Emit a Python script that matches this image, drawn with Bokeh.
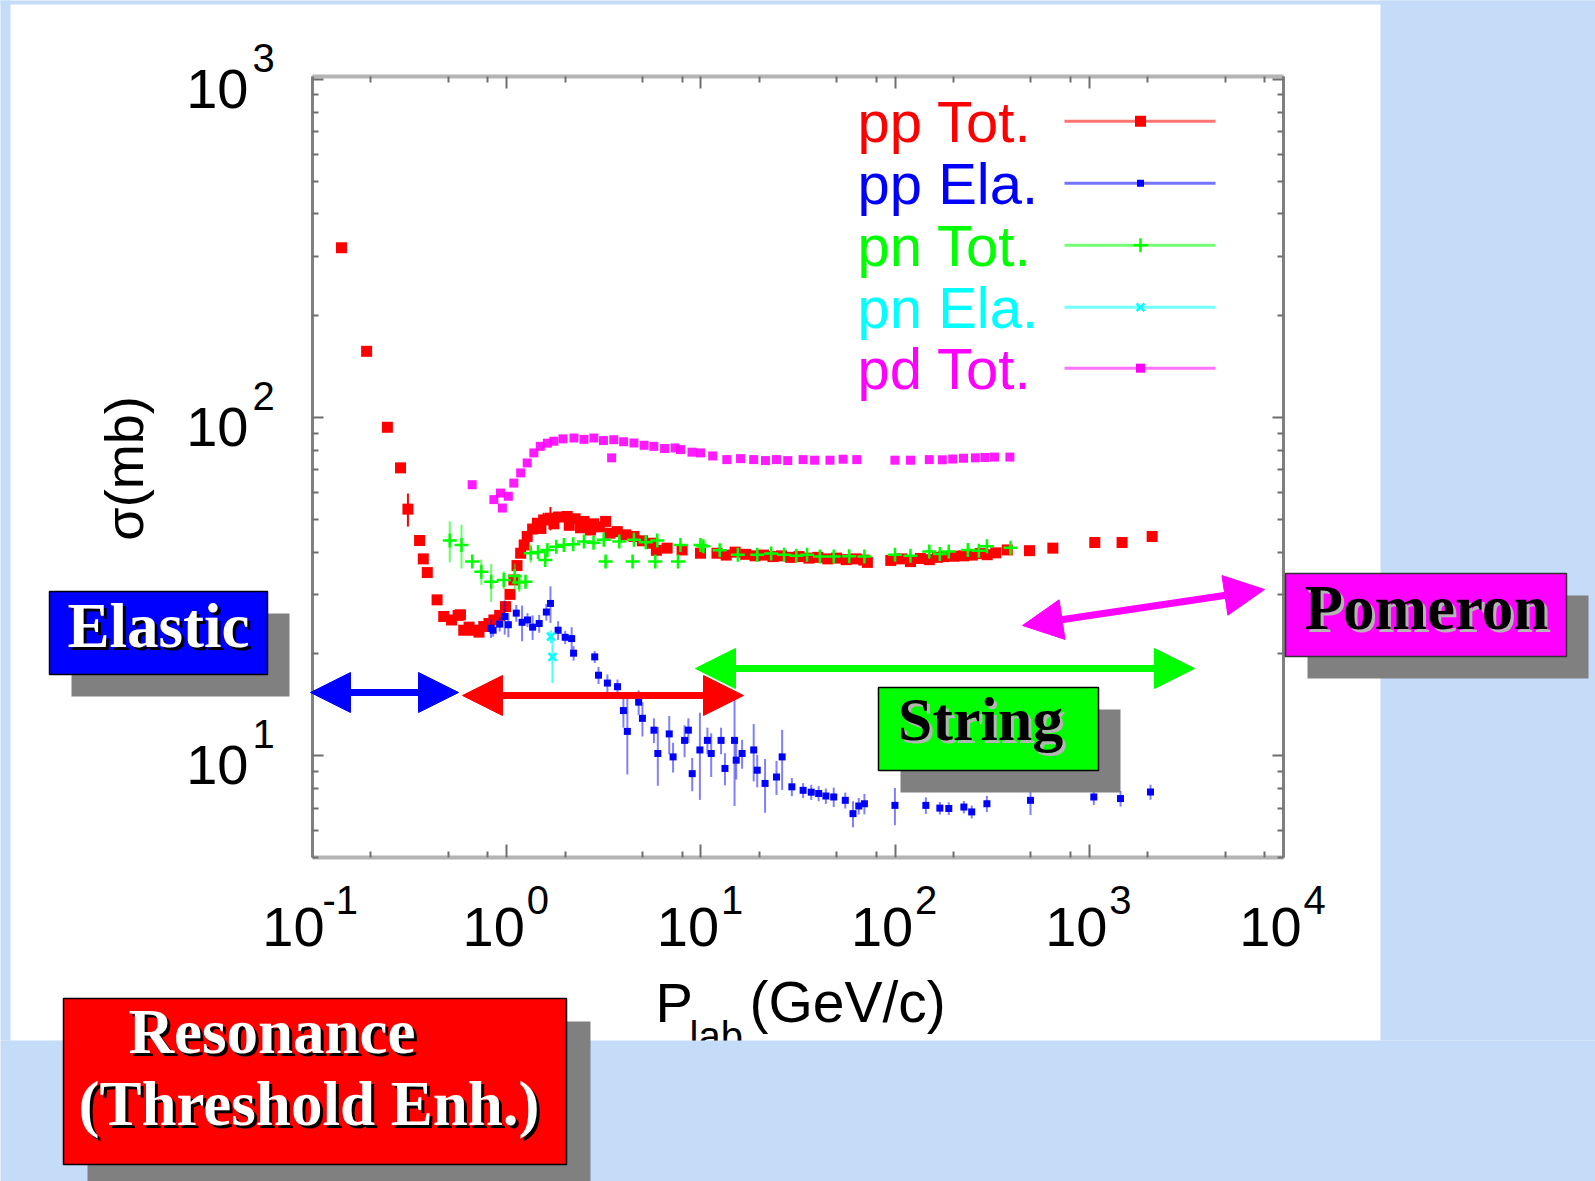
import math
import pandas as pd
from bokeh.plotting import figure
from bokeh.models import (Range1d, LogAxis, FixedTicker, Label, BoxAnnotation,
                          Arrow, NormalHead, ColumnDataSource)
from bokeh.embed import file_html
from bokeh.resources import INLINE

# ------------------------------------------------------------------ data
x_tick_values = [0.1, 1, 10, 100, 1000, 10000]
x_tick_exponents = ["-1", "0", "1", "2", "3", "4"]
y_tick_values = [10, 100, 1000]
y_tick_exponents = ["1", "2", "3"]
x_minor_mult = [2, 5, 8]
y_minor_mult = [2, 3, 4, 5, 6, 7, 8, 9]

x_title_main = "P"
x_title_sub = "lab"
x_title_unit = "(GeV/c)"
y_title = "σ(mb)"

legend_labels = ["pp Tot.", "pp Ela.", "pn Tot.", "pn Ela.", "pd Tot."]

pp_tot_p = [0.141, 0.190, 0.243, 0.284, 0.310, 0.356, 0.372, 0.390, 0.438, 0.474,
            0.520, 0.562, 0.578, 0.601, 0.640, 0.678, 0.720, 0.762, 0.810, 0.859,
            0.920, 0.986, 1.04, 1.088, 1.13, 1.18, 1.23, 1.275, 1.36, 1.44,
            1.50, 1.55, 1.68, 1.75, 1.85, 2.05, 2.10, 2.25, 2.40, 2.50,
            2.70, 2.80, 3.00, 3.23, 3.40, 3.71, 4.10, 4.52, 5.00, 5.50,
            5.90, 6.70, 8.00, 9.95, 12.1, 13.5, 15.0, 17.0, 19.0, 21.0,
            23.5, 26.0, 29.0, 32.0, 36.0, 40.0, 45.0, 50.0, 56.0, 63.0,
            69.0, 72.0, 95.0, 108, 120, 135, 150, 165, 178, 200,
            225, 250, 275, 298, 330, 378, 492, 649, 1067, 1475, 2107]
pp_tot_sigma = [318, 157, 93.6, 71.0, 53.6, 43.3, 38.2, 34.8, 28.9, 25.8,
                25.2, 26.0, 26.1, 23.5, 24.0, 23.5, 23.2, 24.1, 24.6, 25.2,
                26.0, 27.6, 30.0, 33.1, 36.5, 39.7, 42.0, 44.5, 46.8, 48.7,
                47.0, 49.8, 50.4, 48.5, 50.8, 51.0, 48.0, 50.2, 47.2, 49.3,
                46.5, 48.5, 47.5, 49.3, 45.5, 46.0, 45.0, 44.5, 43.2, 42.5,
                40.5, 41.1, 40.6, 39.7, 39.7, 39.2, 40.0, 39.4, 39.0, 39.2,
                38.8, 39.0, 38.6, 38.8, 38.4, 38.6, 38.2, 38.4, 38.0, 38.2,
                37.9, 37.3, 37.8, 38.2, 37.5, 38.3, 38.0, 38.6, 38.8, 38.9,
                39.0, 39.2, 39.6, 39.3, 39.8, 40.6, 40.4, 41.1, 42.7, 42.7, 44.5]
pp_tot_err = [0, 0, 0, 0, 6.0, 0, 0, 0, 0, 0,
              0, 0, 0, 0, 0, 0, 0, 0, 0, 0,
              0, 0, 0, 0, 0, 0, 0, 0, 0, 0,
              0, 2.5, 4.0, 0, 0, 0, 0, 0, 0, 0,
              0, 0, 0, 0, 0, 0, 0, 0, 0, 0,
              0, 0, 0, 0, 0, 0, 0, 0, 0, 0,
              0, 0, 0, 0, 0, 0, 0, 0, 0, 0,
              0, 0, 0, 0, 0, 0, 0, 0, 0, 0,
              0, 0, 0, 0, 0, 0, 0, 0, 1.0, 1.0, 1.5]

pp_ela_p = [0.83, 0.851, 0.92, 0.977, 1.02, 1.12, 1.20, 1.28, 1.36, 1.47,
            1.60, 1.68, 1.84, 2.0, 2.16, 2.21, 2.84, 2.97, 3.3, 3.72,
            3.99, 4.18, 4.78, 5.00, 5.73, 6.00, 6.87, 7.19, 8.24, 8.62,
            9.02, 9.88, 10.8, 11.3, 12.7, 13.3, 14.9, 15.2, 16.3, 18.7,
            19.5, 21.4, 24.5, 26.2, 29.4, 33.6, 37.0, 40.4, 44.0, 48.3,
            55.4, 60.7, 65.0, 69.5, 99.8, 144, 170, 189, 226, 248,
            297, 498, 1055, 1448, 2066]
pp_ela_sigma = [23.8, 23.5, 24.5, 25.8, 24.4, 26.4, 24.8, 25.2, 24.0, 24.6,
                26.6, 28.2, 23.5, 22.4, 22.2, 20.1, 19.6, 17.3, 16.4, 16.0,
                13.6, 11.8, 14.4, 12.9, 11.9, 10.15, 11.6, 9.92, 11.1, 11.9,
                8.85, 10.4, 11.1, 10.15, 11.1, 9.17, 11.1, 9.70, 10.15, 10.4,
                9.06, 8.28, 8.65, 9.92, 8.09, 7.90, 7.80, 7.73, 7.60, 7.55,
                7.38, 6.74, 7.10, 7.21, 7.13, 7.13, 7.0, 6.98, 7.05, 6.82,
                7.21, 7.38, 7.55, 7.47, 7.81]
pp_ela_err = [1.5, 1.0, 1.2, 3.0, 2.0, 1.5, 3.0, 1.2, 2.0, 1.5,
              1.5, 3.5, 1.5, 1.0, 1.8, 1.0, 0.8, 1.0, 1.0, 0.8,
              1.5, 3.0, 1.2, 1.5, 1.0, 2.0, 1.5, 1.0, 1.2, 1.0,
              1.0, 3.0, 1.0, 1.5, 1.0, 1.0, 4.0, 1.2, 1.0, 2.0,
              1.0, 1.5, 1.0, 2.0, 0.5, 0.4, 0.4, 0.4, 0.4, 0.5,
              0.4, 0.6, 0.4, 0.5, 0.9, 0.4, 0.3, 0.3, 0.3, 0.3,
              0.4, 0.7, 0.4, 0.4, 0.4]

pn_tot_p = [0.509, 0.585, 0.664, 0.74, 0.832, 0.966, 1.10, 1.16, 1.25, 1.33,
            1.45, 1.58, 1.62, 1.80, 1.97, 2.2, 2.50, 2.8, 3.16, 3.23,
            3.8, 4.45, 4.52, 5.2, 5.82, 5.96, 7.62, 7.85, 9.95, 10.3,
            12.5, 15.5, 19.5, 23.0, 26.8, 31.0, 35.2, 41.0, 48.3, 58.0,
            69.5, 99.8, 120, 150, 170, 189, 237, 270, 297, 393]
pn_tot_sigma = [43.3, 42.0, 37.5, 35.0, 32.7, 33.1, 34.0, 32.5, 32.7, 39.7,
                40.0, 37.9, 40.6, 41.5, 42.0, 42.2, 43.0, 42.6, 43.5, 37.5,
                43.0, 37.5, 43.5, 42.8, 37.5, 43.3, 37.5, 42.0, 42.0, 41.6,
                40.5, 39.3, 39.3, 39.6, 39.3, 39.0, 39.3, 38.8, 38.8, 38.9,
                38.8, 39.3, 39.0, 40.2, 39.5, 40.2, 40.6, 40.4, 41.6, 41.2]
pn_tot_err = [6.0, 6.2, 1.5, 3.0, 4.2, 2.0, 3.0, 2.0, 1.5, 2.5,
              1.0, 1.0, 1.0, 1.0, 1.0, 0.8, 0.8, 0.8, 0.8, 1.5,
              0.8, 1.5, 0.8, 0.8, 1.5, 0.8, 1.5, 0.8, 1.0, 1.5,
              1.5, 1.0, 1.0, 1.0, 1.0, 1.0, 1.0, 1.0, 1.0, 1.0,
              1.0, 1.0, 1.0, 1.0, 1.0, 1.0, 1.0, 1.0, 1.0, 1.0]

pn_ela_p = [1.69, 1.72]
pn_ela_sigma = [22.5, 19.6]
pn_ela_err = [1.0, 3.2]

pd_tot_p = [0.664, 0.859, 0.929, 0.95, 1.02, 1.088, 1.18, 1.275, 1.38, 1.49,
            1.62, 1.75, 1.95, 2.22, 2.5, 2.81, 3.15, 3.47, 3.56, 4.0,
            4.52, 5.10, 5.72, 6.5, 7.36, 7.85, 9.0, 9.95, 11.5, 13.6,
            16.0, 18.7, 21.5, 24.5, 28.0, 33.6, 38.5, 46.2, 54.0, 63.5,
            99.8, 120, 150, 175, 198, 225, 259, 290, 325, 390]
pd_tot_sigma = [63.3, 57.2, 59.8, 54.0, 58.5, 64.0, 68.6, 73.4, 78.6, 82.2,
                84.0, 85.1, 86.5, 87.0, 86.2, 87.0, 85.5, 76.0, 86.0, 84.8,
                84.1, 82.8, 82.2, 81.0, 81.3, 80.4, 79.0, 78.6, 77.0, 75.1,
                75.6, 75.1, 74.6, 75.1, 74.6, 75.1, 74.8, 74.8, 75.3, 75.1,
                74.8, 74.8, 75.1, 75.0, 75.4, 75.8, 76.0, 76.2, 76.4, 76.4]

# ------------------------------------------------------------------ layout (page pixels)
OFF = 0
W, H = 1595, 1181
PL, PR, PT, PB = 312, 1283, 76, 857          # plot box
XMIN, XMAX = 0.1, 1e4
YMIN, YMAX = 5.0, 1020.0
LX0, LX1 = math.log10(XMIN), math.log10(XMAX)
LY0, LY1 = math.log10(YMIN), math.log10(YMAX)


def dx(px):
    return 10 ** (LX0 + (px - PL) / (PR - PL) * (LX1 - LX0))


def dy(py):
    return 10 ** (LY1 - (py - PT) / (PB - PT) * (LY1 - LY0))


def px_x(v):
    return PL + (math.log10(v) - LX0) / (LX1 - LX0) * (PR - PL)


def py_y(v):
    return PT + (LY1 - math.log10(v)) / (LY1 - LY0) * (PB - PT)


RED, BLUE, GREEN, CYAN, MAGENTA = "#ff0000", "#0000ff", "#00ff00", "#00ffff", "#ff00ff"
SANS = "Liberation Sans"
SERIF = "Liberation Serif"

p = figure(width=W, height=H, x_axis_type="log", y_axis_type="log",
           x_range=Range1d(dx(OFF), dx(OFF + W)), y_range=Range1d(dy(OFF + H), dy(OFF)),
           x_axis_location=None, y_axis_location=None,
           toolbar_location=None, output_backend="svg", min_border=0)
p.outline_line_color = None
p.background_fill_color = "white"
p.border_fill_color = "white"
p.grid.visible = False

x_minor = [m * 10 ** k for k in range(-1, 4) for m in x_minor_mult]
y_minor = [m * 10 ** k for k in range(0, 3) for m in y_minor_mult if YMIN <= m * 10 ** k <= YMAX]


def make_axis(side, loc, bounds, ticks, minors, color, width, tin, mtin):
    ax = LogAxis(fixed_location=loc, bounds=bounds,
                 ticker=FixedTicker(ticks=ticks, minor_ticks=minors),
                 axis_line_color=color, axis_line_width=width,
                 major_tick_in=tin, major_tick_out=0, minor_tick_in=mtin, minor_tick_out=0,
                 major_tick_line_color="#6e6e6e", major_tick_line_width=2,
                 minor_tick_line_color="#6e6e6e", minor_tick_line_width=2,
                 major_label_text_font_size="0px", major_label_text_color=None)
    p.add_layout(ax, side)


make_axis("below", YMIN, (XMIN, XMAX), x_tick_values, x_minor, "#b4b4b4", 4, 13, 6)
make_axis("above", YMAX, (XMIN, XMAX), x_tick_values, x_minor, "#b4b4b4", 4, 12, 6)
make_axis("left", XMIN, (YMIN, YMAX), y_tick_values, y_minor, "#808080", 3, 11, 6)
make_axis("right", XMAX, (YMIN, YMAX), y_tick_values, y_minor, "#808080", 3, 11, 6)


# ------------------------------------------------------------------ data glyphs
def src(pv, sv, ev=None):
    df = pd.DataFrame({"p": pv, "s": sv})
    if ev is not None:
        df["lo"] = df["s"] - pd.Series(ev)
        df["hi"] = df["s"] + pd.Series(ev)
    return ColumnDataSource(df)


s_pp_tot = src(pp_tot_p, pp_tot_sigma, pp_tot_err)
s_pp_ela = src(pp_ela_p, pp_ela_sigma, pp_ela_err)
s_pn_tot = src(pn_tot_p, pn_tot_sigma, pn_tot_err)
s_pn_ela = src(pn_ela_p, pn_ela_sigma, pn_ela_err)
s_pd_tot = src(pd_tot_p, pd_tot_sigma)

p.segment(x0="p", y0="lo", x1="p", y1="hi", source=s_pp_tot, line_color=RED, line_width=2)
p.scatter(x="p", y="s", source=s_pp_tot, marker="square", size=11, fill_color=RED, line_color=None)

p.segment(x0="p", y0="lo", x1="p", y1="hi", source=s_pp_ela, line_color=BLUE, line_alpha=0.5, line_width=2)
p.scatter(x="p", y="s", source=s_pp_ela, marker="square", size=7, fill_color=BLUE, line_color=None)

p.segment(x0="p", y0="lo", x1="p", y1="hi", source=s_pn_tot, line_color=GREEN, line_alpha=0.6, line_width=2)
p.scatter(x="p", y="s", source=s_pn_tot, marker="cross", size=14, line_color=GREEN, line_width=2.5)

p.segment(x0="p", y0="lo", x1="p", y1="hi", source=s_pn_ela, line_color=CYAN, line_alpha=0.7, line_width=2)
p.scatter(x="p", y="s", source=s_pn_ela, marker="x", size=11, line_color=CYAN, line_width=2.5)

p.scatter(x="p", y="s", source=s_pd_tot, marker="square", size=9, fill_color=MAGENTA,
          fill_alpha=0.9, line_color=None)


# ------------------------------------------------------------------ helpers for decorations
def text(px, base, t, size, color, font=SANS, align="left", style="normal"):
    # base = alphabetic baseline in page pixels; placed through the em-box middle
    yc = base - 0.347 * size - 2
    p.add_layout(Label(x=dx(px), y=dy(yc), text=t, text_font=font, text_font_size=f"{size}px",
                       text_color=color, text_align=align, text_baseline="middle",
                       text_font_style=style))


def box(x0, y0, x1, y1, fill, line=None, lw=1.5, level="annotation"):
    p.add_layout(BoxAnnotation(left=dx(x0), right=dx(x1), top=dy(y0), bottom=dy(y1),
                               fill_color=fill, fill_alpha=1.0, line_color=line, line_alpha=1.0,
                               line_width=lw, level=level))


def arrow(x0, y0, x1, y1, color):
    p.add_layout(Arrow(x_start=dx(x0), y_start=dy(y0), x_end=dx(x1), y_end=dy(y1),
                       line_color=color, line_width=7,
                       start=NormalHead(size=40, fill_color=color, line_color=color, line_width=1),
                       end=NormalHead(size=40, fill_color=color, line_color=color, line_width=1)))


# tick labels
for v, e in zip(x_tick_values, x_tick_exponents):
    tx = px_x(v)
    neg = e.startswith("-")
    text(tx + (-19 if neg else -13), 948, "10", 56, "black", align="center")
    text(tx + (10 if neg else 20), 915, e, 40, "black")
for v, e in zip(y_tick_values, y_tick_exponents):
    ty = py_y(v)
    text(248, ty + 31, "10", 56, "black", align="right")
    text(252, ty - 6, e, 40, "black")

# axis titles
p.add_layout(Label(x=dx(123), y=dy(468), text=y_title, text_font=SANS, text_font_size="54px",
                   text_color="black", text_align="center", text_baseline="middle",
                   angle=math.pi / 2))
text(655, 1023, x_title_main, 56, "black")
text(689, 1051, x_title_sub, 40, "black")
text(749, 1023, x_title_unit, 57, "black")

# legend
legend_colors = [RED, BLUE, GREEN, CYAN, MAGENTA]
legend_rows = [120.7, 182.7, 244.7, 306.7, 367.7]
for lab, col, ry in zip(legend_labels, legend_colors, legend_rows):
    text(857, ry + 22.5, lab, 58, col)
    p.segment(x0=[dx(1064)], y0=[dy(ry)], x1=[dx(1215)], y1=[dy(ry)], line_color=col,
              line_alpha=0.55, line_width=3)
p.scatter(x=[dx(1140)], y=[dy(legend_rows[0])], marker="square", size=11, fill_color=RED, line_color=None)
p.scatter(x=[dx(1140)], y=[dy(legend_rows[1])], marker="square", size=7, fill_color=BLUE, line_color=None)
p.scatter(x=[dx(1140)], y=[dy(legend_rows[2])], marker="cross", size=14, line_color=GREEN, line_width=2.5)
p.scatter(x=[dx(1140)], y=[dy(legend_rows[3])], marker="x", size=11, line_color=CYAN, line_width=2.5)
p.scatter(x=[dx(1140)], y=[dy(legend_rows[4])], marker="square", size=9, fill_color=MAGENTA, line_color=None)

# slide background outside the white panel
SLIDE_BLUE = "#c4dcf7"
box(1380, -10, 1700, 1040, SLIDE_BLUE)
box(-10, 1040, 1700, 1300, SLIDE_BLUE)
box(-10, -10, 10, 1040, SLIDE_BLUE)
box(-10, -10, 1700, 4, SLIDE_BLUE)

# arrows
arrow(310, 692, 458, 692, BLUE)
arrow(462, 695, 743, 695, RED)
arrow(695, 668, 1194, 668, GREEN)
arrow(1022, 625, 1264, 589, MAGENTA)

SHADOW = "#808080"


def tag(bx0, by0, bx1, by1, fill, lines, fg, sh, sx=22, sy=22, border="black"):
    box(bx0 + sx, by0 + sy, bx1 + sx, by1 + sy, SHADOW)
    box(bx0, by0, bx1, by1, fill, line=border, lw=1.5)
    for (tx, ty, t, size, align) in lines:
        text(tx + 3, ty + 3, t, size, sh, font=SERIF, style="bold", align=align)
        text(tx, ty, t, size, fg, font=SERIF, style="bold", align=align)


tag(49, 591, 267, 674, BLUE, [(158, 649, "Elastic", 63, "center")], "white", "black")
tag(878, 687, 1098, 770, GREEN, [(980, 742, "String", 62, "center")], "black", "#b4b4b4")
tag(1285, 573, 1566, 656, MAGENTA, [(1426, 631, "Pomeron", 63, "center")], "black", "#b4b4b4",
    border="#333333")
tag(63, 998, 566, 1164, RED, [(128, 1055, "Resonance", 63, "left"),
                              (78, 1127, "(Threshold Enh.)", 63, "left")], "white", "black", sx=24, sy=23)

open("out.html", "w").write(file_html(p, INLINE))
